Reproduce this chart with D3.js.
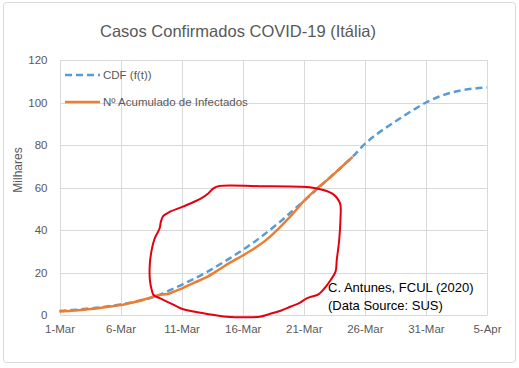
<!DOCTYPE html>
<html lang="pt">
<head>
<meta charset="UTF-8">
<title>Casos Confirmados COVID-19 (Itália)</title>
<script src="https://d3js.org/d3.v7.min.js"></script>
<style>
    body { margin: 0; background: #ffffff; }
    svg { display: block; font-family: "Liberation Sans", Arial, sans-serif; }
    .grid line { stroke: #d9d9d9; stroke-width: 1; shape-rendering: crispEdges; }
    .grid path.domain { display: none; }
    .axis text { fill: #595959; font-size: 11.5px; }
</style>
</head>
<body>
<svg width="519" height="368"></svg>
<script>
    // days since 1-Mar
    var days = d3.range(0, 36);
    var xTickDays = [0, 5, 10, 15, 20, 25, 30, 35];
    var xTickLabels = ["1-Mar", "6-Mar", "11-Mar", "16-Mar", "21-Mar", "26-Mar", "31-Mar", "5-Apr"];
    var yTicks = [0, 20, 40, 60, 80, 100, 120];

    // CDF (f(t)), milhares, day 0..35
    var cdf = [1.9, 2.3, 2.8, 3.4, 4.1, 5.0, 6.0, 7.3, 9.0, 11.6,
               14.2, 17.0, 20.0, 23.4, 26.9, 30.6, 34.6, 39.0, 43.6, 48.6,
               53.6, 58.8, 64.0, 69.2, 74.5, 80.5, 85.2, 89.2, 93.0, 96.6,
               100.0, 102.6, 104.5, 105.8, 106.6, 107.1];

    // Nº acumulado de infectados, milhares, day 0..24
    var infectados = [1.69, 2.04, 2.50, 3.09, 3.86, 4.64, 5.88, 7.38, 9.17, 10.15,
                      12.46, 15.11, 17.66, 21.16, 24.75, 27.98, 31.51, 35.71, 41.04, 47.02,
                      53.58, 59.14, 63.93, 69.18, 74.39];

    // hand drawn red loop, in chart units (day, milhares)
    var loopDay = [13.1, 16.4, 19.7, 20.5, 21.6, 22.4, 22.8, 23.0, 23.0, 22.9,
                   22.7, 22.6, 22.2, 21.7, 21.2, 20.6, 20.1, 19.7, 18.9, 18.1,
                   17.2, 16.4, 15.3, 13.7, 12.1, 11.0, 9.9, 9.1, 8.2, 7.7,
                   7.55, 7.4, 7.4, 7.6, 7.8, 8.2, 8.3, 8.5, 9.05, 10.1,
                   11.6, 12.2, 12.6];
    var loopVal = [60.7, 60.6, 60.4, 60.1, 58.8, 56.9, 54.4, 51.8, 44.7, 35.3,
                   25.9, 20.4, 16.5, 12.6, 9.7, 8.6, 7.4, 5.8, 3.9, 2.0,
                   0.5, -0.8, -1.1, -0.8, 0.5, 1.6, 3.2, 5.5, 7.9, 9.4,
                   11.8, 16.5, 24.3, 32.1, 36.1, 40.8, 43.9, 46.6, 48.6, 51.0,
                   54.9, 57.3, 59.6];

    var svg = d3.select("svg");

    svg.append("rect")
        .attr("x", 3.5).attr("y", 2.5)
        .attr("width", 512).attr("height", 360)
        .attr("rx", 3)
        .attr("fill", "#ffffff")
        .attr("stroke", "#d9d9d9");

    var xScale = d3.scaleLinear().domain([0, 35]).range([59.5, 487]);
    var yScale = d3.scaleLinear().domain([0, 120]).range([315, 60]);

    // gridlines
    svg.append("g").attr("class", "grid")
        .attr("transform", "translate(0,60)")
        .call(d3.axisBottom(xScale).tickValues(xTickDays).tickSize(255).tickFormat(""));
    svg.append("g").attr("class", "grid")
        .attr("transform", "translate(59.5,0)")
        .call(d3.axisRight(yScale).tickValues(yTicks).tickSize(427.5).tickFormat(""));

    // axis labels
    var xAxis = svg.append("g").attr("class", "axis")
        .attr("transform", "translate(0,315)")
        .call(d3.axisBottom(xScale).tickValues(xTickDays).tickSize(0).tickPadding(10)
            .tickFormat(function (d, i) { return xTickLabels[i]; }));
    xAxis.select(".domain").attr("stroke", "#d9d9d9");

    var yAxis = svg.append("g").attr("class", "axis")
        .attr("transform", "translate(59.5,0)")
        .call(d3.axisLeft(yScale).tickValues(yTicks).tickSize(0).tickPadding(12));
    yAxis.select(".domain").remove();

    svg.append("text")
        .attr("transform", "translate(22,170) rotate(-90)")
        .attr("text-anchor", "middle")
        .attr("fill", "#595959")
        .style("font-size", "12px")
        .text("Milhares");

    svg.append("text")
        .attr("x", 238).attr("y", 37)
        .attr("text-anchor", "middle")
        .attr("fill", "#595959")
        .style("font-size", "16.5px")
        .text("Casos Confirmados COVID-19 (Itália)");

    // series
    var cdfLine = d3.line()
        .x(function (d, i) { return xScale(days[i]); })
        .y(function (d) { return yScale(d); })
        .curve(d3.curveMonotoneX);

    svg.append("path")
        .attr("d", cdfLine(cdf))
        .attr("fill", "none")
        .attr("stroke", "#5b9bd5")
        .attr("stroke-width", 2.5)
        .attr("stroke-dasharray", "7,4");

    svg.append("path")
        .attr("d", cdfLine(infectados))
        .attr("fill", "none")
        .attr("stroke", "#ed7d31")
        .attr("stroke-width", 2.5);

    // legend
    var legend = [
        { name: "CDF (f(t))", color: "#5b9bd5", dash: "7,4", y: 75 },
        { name: "Nº Acumulado de Infectados", color: "#ed7d31", dash: null, y: 102 }
    ];
    legend.forEach(function (l) {
        svg.append("line")
            .attr("x1", 65).attr("x2", 100)
            .attr("y1", l.y).attr("y2", l.y)
            .attr("stroke", l.color)
            .attr("stroke-width", 2.5)
            .attr("stroke-dasharray", l.dash);
        svg.append("text")
            .attr("x", 103).attr("y", l.y + 4)
            .attr("fill", "#595959")
            .style("font-size", "11.5px")
            .text(l.name);
    });

    // annotation
    svg.append("text")
        .attr("x", 328).attr("y", 292)
        .attr("fill", "#000000")
        .style("font-size", "13px")
        .text("C. Antunes, FCUL (2020)");
    svg.append("text")
        .attr("x", 328).attr("y", 310)
        .attr("fill", "#000000")
        .style("font-size", "13px")
        .text("(Data Source: SUS)");

    // red loop
    var loopLine = d3.line()
        .x(function (d, i) { return xScale(loopDay[i]); })
        .y(function (d) { return yScale(d); })
        .curve(d3.curveCatmullRomClosed);

    svg.append("path")
        .attr("d", loopLine(loopVal))
        .attr("fill", "none")
        .attr("stroke", "#e3000f")
        .attr("stroke-width", 2);
</script>
</body>
</html>
